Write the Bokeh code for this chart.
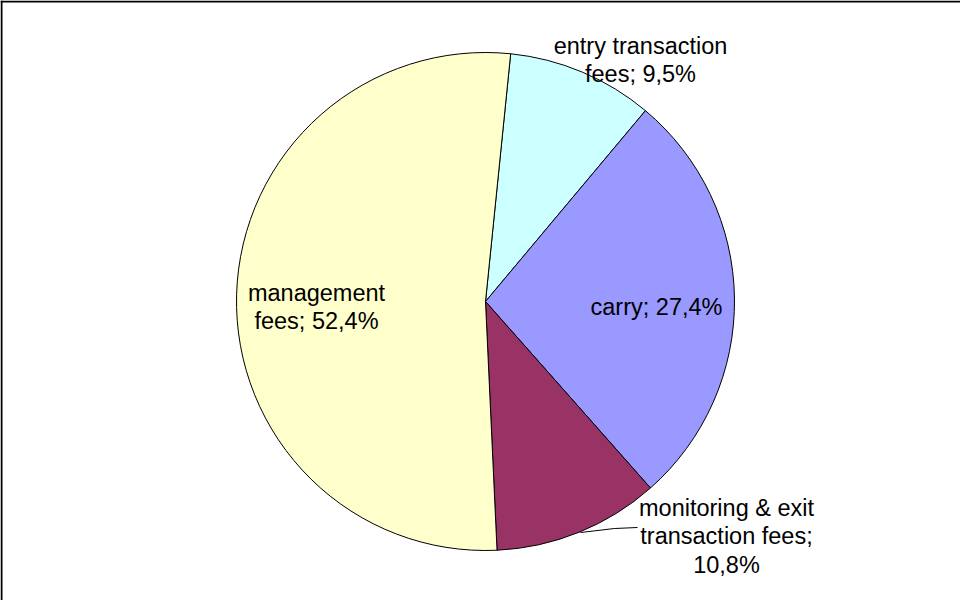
import math
from bokeh.plotting import figure
from bokeh.models import Range1d, Span
from bokeh.core.properties import value
from bokeh.embed import file_html
from bokeh.resources import INLINE

# ---- data ----
categories = ["entry transaction fees", "carry", "monitoring & exit transaction fees", "management fees"]
shares = [9.5, 27.4, 10.8, 52.4]
share_labels = ["9,5%", "27,4%", "10,8%", "52,4%"]
label_lines = [
    ["entry transaction", "fees; 9,5%"],
    ["carry; 27,4%"],
    ["monitoring & exit", "transaction fees;", "10,8%"],
    ["management", "fees; 52,4%"],
]
colors = ["#CCFFFF", "#9999FF", "#993366", "#FFFFCC"]

# ---- layout (figure pixels, y up) ----
W, H = 960, 600
cx, cy, R = 485, 299, 249
start_offset_deg = 5.8  # clockwise from 12 o'clock
font_px = 23.5
line_gap = 28.7
# first-line baseline positions of each label (page coords)
label_anchor_page = [(648, 53), (664, 314), (734, 515), (324, 300)]

p = figure(width=W, height=H, output_backend="svg", toolbar_location=None,
           x_range=Range1d(0, W), y_range=Range1d(0, H), min_border=0)
p.axis.visible = False
p.grid.visible = False
p.outline_line_color = None
p.background_fill_color = "white"
p.border_fill_color = "white"

total = sum(shares)
cum = 0.0
starts, ends = [], []
for s in shares:
    a0 = start_offset_deg + cum / total * 360.0
    cum += s
    a1 = start_offset_deg + cum / total * 360.0
    starts.append(math.pi / 2 - math.radians(a0))
    ends.append(math.pi / 2 - math.radians(a1))

p.wedge(x=[cx] * len(shares), y=[cy] * len(shares), radius=R,
        start_angle=starts, end_angle=ends, direction="clock",
        fill_color=colors, line_color="black", line_width=1)

# leader line for monitoring label
p.line(x=[588 - 8, 622 - 8, 645 - 8], y=[608 - 540, 608 - 536, 608 - 535],
       line_color="black", line_width=1)

xs, ys, ts = [], [], []
for lines, (px, py) in zip(label_lines, label_anchor_page):
    for k, t in enumerate(lines):
        xs.append(px - 8)
        ys.append(608 - (py + k * line_gap))
        ts.append(t)
p.text(x=xs, y=ys, text=ts, text_align="center", text_baseline="alphabetic",
       text_font=value("Liberation Sans"), text_font_size=f"{font_px}px",
       text_color="black")

# frame border (top and left visible)
p.add_layout(Span(location=1, dimension="height", line_color="black", line_width=2))
p.add_layout(Span(location=H - 1, dimension="width", line_color="black", line_width=2))

open("out.html", "w").write(file_html(p, INLINE))
